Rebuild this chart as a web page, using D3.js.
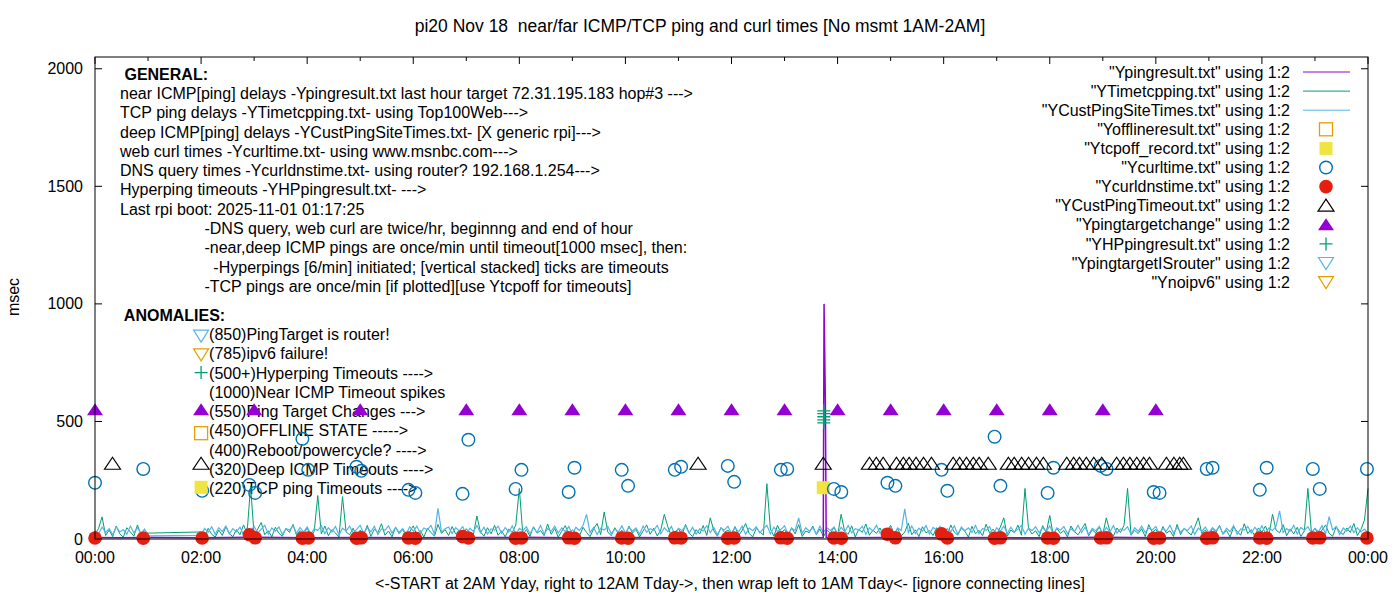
<!DOCTYPE html>
<html>
<head>
<meta charset="utf-8">
<script src="https://d3js.org/d3.v7.min.js"></script>
<style>
  body { margin: 0; background: #fff; }
  text { font-family: "Liberation Sans", Arial, sans-serif; }
</style>
</head>
<body>
<div id="chart"></div>
<script>
'use strict'

////////////////////////////////////
/////////////// data ///////////////
////////////////////////////////////

// time axis, hours 0..24
const xTickHours = [0, 2, 4, 6, 8, 10, 12, 14, 16, 18, 20, 22, 24]
const yTickVals = [0, 500, 1000, 1500, 2000]

// near ICMP ping (Ypingresult.txt)
const pingTimes = [0, 0.5, 1.0, 2.0, 3, 4, 5, 6, 7, 8, 9, 10, 11, 12, 13, 13.73, 13.745, 13.77, 13.785, 14, 15, 16, 17, 18, 19, 20, 21, 22, 23, 24]
const pingVals = [6, 5, 6, 5, 7, 5, 6, 5, 6, 7, 5, 6, 5, 6, 5, 6, 1000, 575, 6, 5, 6, 5, 6, 5, 7, 5, 6, 5, 6, 5]

// TCP ping (YTimetcpping.txt), 4 minute samples: 00:00-01:00 then 02:00-24:00
const sampleStepMin = 4
const tcpA = [20, 45, 94, 15, 38, 10, 55, 22, 8, 48, 30, 12, 60, 18, 35, 25]
const tcpB = [
    30, 12, 45, 20, 8, 38, 15, 52, 22, 10, 40, 18, 60, 25, 225,
    14, 42, 70, 18, 35, 9, 50, 24, 12, 44, 28, 62, 15, 36, 20,
    48, 10, 33, 185, 22, 55, 14, 40, 26, 8, 180, 30, 18, 46, 12,
    38, 20, 58, 11, 42, 27, 65, 16, 34, 9, 50, 23, 40, 14, 31,
    56, 19, 36, 8, 45, 28, 12, 62, 24, 40, 15, 53, 21, 37, 10,
    44, 26, 18, 98, 30, 12, 48, 22, 58, 16, 35, 9, 42, 27, 60,
    215, 18, 40, 11, 52, 25, 36, 14, 64, 20, 45, 8, 33, 57, 17,
    39, 24, 12, 50, 28, 10, 43, 66, 19, 115, 30, 14, 48, 22, 37,
    16, 55, 25, 41, 9, 34, 60, 20, 46, 13, 38, 105, 52, 11, 30,
    44, 18, 62, 26, 10, 40, 21, 57, 15, 90, 35, 12, 49, 28, 38,
    20, 53, 14, 36, 66, 23, 9, 45, 30, 17, 235, 42, 12, 58, 26,
    40, 15, 48, 22, 61, 11, 34, 27, 55, 18, 43, 10, 37, 25, 50,
    14, 105, 32, 20, 56, 9, 41, 28, 64, 16, 38, 24, 47, 12, 35,
    58, 21, 44, 13, 30, 67, 18, 39, 10, 52, 26, 36, 15, 48, 23,
    40, 11, 60, 29, 17, 46, 33, 8, 54, 22, 37, 14, 63, 25, 42,
    19, 50, 90, 12, 38, 27, 59, 16, 215, 44, 21, 35, 10, 57, 28,
    100, 15, 46, 24, 36, 9, 55, 31, 18, 42, 66, 13, 39, 26, 51,
    20, 90, 33, 12, 47, 28, 58, 215, 16, 37, 23, 44, 10, 61, 29,
    41, 14, 53, 25, 35, 11, 62, 19, 45, 30, 17, 50, 90, 24, 38,
    13, 44, 27, 58, 20, 36, 9, 51, 32, 16, 65, 23, 40, 12, 47,
    29, 55, 18, 105, 38, 26, 61, 14, 43, 22, 50, 11, 34, 215, 27,
    45, 17, 38, 60, 24, 12, 52, 31, 19, 47, 28, 66, 15, 40, 80,
    215
]

// deep ICMP ping (YCustPingSiteTimes.txt), same sampling
const custA = [35, 22, 50, 28, 45, 18, 52, 30, 40, 20, 55, 26, 48, 24, 42, 13]
const custB = [
    15, 45, 28, 52, 20, 48, 32, 55, 22, 44, 30, 50, 18, 46, 35,
    54, 25, 42, 58, 21, 47, 33, 52, 19, 45, 38, 56, 24, 49, 29,
    51, 20, 44, 36, 57, 23, 48, 30, 53, 18, 46, 34, 55, 26, 41,
    58, 22, 49, 31, 54, 19, 43, 37, 56, 25, 50, 28, 45, 21, 52,
    33, 55, 24, 47, 39, 58, 20, 130, 29, 44, 51, 23, 48, 35, 53,
    18, 46, 32, 57, 26, 50, 21, 43, 38, 54, 24, 49, 30, 56, 19,
    45, 35, 52, 22, 48, 28, 58, 20, 44, 33, 55, 25, 47, 31, 53,
    21, 50, 36, 57, 105, 27, 49, 19, 46, 38, 54, 23, 42, 30, 56,
    24, 51, 33, 47, 20, 55, 29, 44, 37, 58, 22, 48, 31, 53, 19,
    45, 36, 56, 25, 50, 21, 43, 34, 57, 27, 49, 18, 46, 39, 54,
    23, 48, 30, 55, 20, 47, 35, 52, 26, 44, 58, 22, 50, 32, 41,
    56, 19, 45, 37, 90, 24, 48, 33, 49, 21, 55, 28, 47, 36, 51,
    22, 50, 31, 57, 26, 44, 38, 54, 20, 48, 34, 58, 25, 43, 30,
    52, 19, 47, 36, 128, 27, 55, 23, 46, 33, 57, 21, 49, 38, 53,
    25, 44, 31, 56, 20, 51, 35, 47, 28, 58, 22, 45, 37, 53, 19,
    48, 33, 55, 24, 50, 29, 42, 57, 21, 46, 36, 52, 26, 49, 32,
    56, 20, 47, 38, 53, 23, 44, 31, 58, 27, 50, 19, 45, 35, 54,
    22, 49, 30, 57, 25, 43, 37, 52, 20, 48, 33, 55, 28, 46, 39,
    53, 21, 45, 34, 58, 24, 50, 29, 44, 36, 56, 19, 47, 32, 51,
    26, 48, 35, 55, 22, 46, 31, 57, 20, 43, 38, 53, 25, 50, 30,
    56, 23, 47, 36, 54, 120, 28, 44, 33, 58, 21, 49, 37, 52, 26,
    45, 31, 57, 22, 95, 39, 53, 19, 47, 34, 55, 27, 48, 30, 42,
    25
]

// web curl times (Ycurltime.txt) and DNS times (Ycurldnstime.txt), same timestamps
const curlTimes = [0.0, 0.91, 2.02, 2.91, 3.02, 3.91, 4.02, 4.93, 5.02, 5.91, 6.04, 6.93, 7.04, 7.93, 8.04, 8.93, 9.04, 9.93, 10.05, 10.93, 11.05, 11.93, 12.05, 12.93, 13.05, 13.93, 14.07, 14.94, 15.09, 15.96, 16.07, 16.96, 17.07, 17.96, 18.07, 18.96, 19.07, 19.96, 20.07, 20.96, 21.07, 21.96, 22.09, 22.96, 23.09, 23.98]
const curlVals = [239, 298, 205, 230, 196, 426, 294, 307, 290, 209, 196, 192, 422, 213, 294, 200, 303, 294, 226, 294, 307, 311, 243, 294, 298, 213, 200, 239, 226, 294, 205, 435, 226, 196, 303, 311, 298, 200, 196, 298, 303, 209, 303, 298, 213, 298]
const dnsVals = [4, 3, 4, 18, 5, 3, 4, 3, 5, 4, 3, 10, 4, 3, 4, 5, 3, 4, 3, 5, 4, 3, 4, 5, 3, 4, 3, 20, 5, 22, 4, 3, 5, 4, 3, 4, 5, 3, 4, 3, 5, 4, 3, 4, 5, 4]

// deep ICMP timeouts (YCustPingTimeout.txt)
const custTimeoutTimes = [0.33, 11.37, 13.73,
    14.60, 14.73, 14.86, 15.11, 15.24, 15.35, 15.48, 15.62, 15.77,
    16.18, 16.30, 16.43, 16.56, 16.67, 16.84, 17.22, 17.33, 17.47, 17.60, 17.75, 17.88,
    18.32, 18.45, 18.56, 18.69, 18.83, 18.98, 19.26, 19.39, 19.51, 19.64, 19.77, 19.88,
    20.20, 20.34, 20.45, 20.52]
const custTimeoutVal = 320

// ping target changes (Ypingtargetchange)
const targetChangeTimes = [0, 3, 5, 7, 8, 9, 10, 11, 12, 13, 14, 15, 16, 17, 18, 19, 20]
const targetChangeVal = 550

// TCP ping timeouts (Ytcpoff_record.txt)
const tcpOffTimes = [13.73]
const tcpOffVals = [218]

// hyperping timeouts (YHPpingresult.txt)
const hpTimes = [13.74, 13.74, 13.74, 13.74, 13.74]
const hpVals = [494, 507, 520, 533, 545]

const titleText = 'pi20 Nov 18  near/far ICMP/TCP ping and curl times [No msmt 1AM-2AM]'
const xLabelText = '<-START at 2AM Yday, right to 12AM Tday->, then wrap left to 1AM Tday<- [ignore connecting lines]'
const yLabelText = 'msec'

const generalLines = [
    ' GENERAL:',
    'near ICMP[ping] delays -Ypingresult.txt last hour target 72.31.195.183 hop#3 --->',
    'TCP ping delays -YTimetcpping.txt- using Top100Web--->',
    'deep ICMP[ping] delays -YCustPingSiteTimes.txt- [X generic rpi]--->',
    'web curl times -Ycurltime.txt- using www.msnbc.com--->',
    'DNS query times -Ycurldnstime.txt- using router? 192.168.1.254--->',
    'Hyperping timeouts -YHPpingresult.txt- --->',
    'Last rpi boot: 2025-11-01 01:17:25',
    '                   -DNS query, web curl are twice/hr, beginnng and end of hour',
    '                   -near,deep ICMP pings are once/min until timeout[1000 msec], then:',
    '                     -Hyperpings [6/min] initiated; [vertical stacked] ticks are timeouts',
    '                   -TCP pings are once/min [if plotted][use Ytcpoff for timeouts]'
]

const anomalyTitle = ' ANOMALIES:'
const anomalyLines = [
    { text: '(850)PingTarget is router!', key: 'isrouter', keyVal: 865 },
    { text: '(785)ipv6 failure!', key: 'noipv6', keyVal: 785 },
    { text: '(500+)Hyperping Timeouts ---->', key: 'hp', keyVal: 708 },
    { text: '(1000)Near ICMP Timeout spikes', key: null },
    { text: '(550)Ping Target Changes --->', key: 'tchange', keyVal: 550 },
    { text: '(450)OFFLINE STATE ----->', key: 'offline', keyVal: 450 },
    { text: '(400)Reboot/powercycle? ---->', key: null },
    { text: '(320)Deep ICMP Timeouts ---->', key: 'custto', keyVal: 320 },
    { text: '(220)TCP ping Timeouts ---->', key: 'tcpoff', keyVal: 220 }
]
const anomalyKeyHour = 2

const legendItems = [
    { label: '"Ypingresult.txt" using 1:2', key: 'ping' },
    { label: '"YTimetcpping.txt" using 1:2', key: 'tcp' },
    { label: '"YCustPingSiteTimes.txt" using 1:2', key: 'cust' },
    { label: '"Yofflineresult.txt" using 1:2', key: 'offline' },
    { label: '"Ytcpoff_record.txt" using 1:2', key: 'tcpoff' },
    { label: '"Ycurltime.txt" using 1:2', key: 'curl' },
    { label: '"Ycurldnstime.txt" using 1:2', key: 'dns' },
    { label: '"YCustPingTimeout.txt" using 1:2', key: 'custto' },
    { label: '"Ypingtargetchange" using 1:2', key: 'tchange' },
    { label: '"YHPpingresult.txt" using 1:2', key: 'hp' },
    { label: '"YpingtargetISrouter" using 1:2', key: 'isrouter' },
    { label: '"Ynoipv6" using 1:2', key: 'noipv6' }
]

////////////////////////////////////
//////////// svg setup /////////////
////////////////////////////////////

const svgWidth = 1400
const svgHeight = 600
const plot = { left: 95, right: 1368, top: 57, bottom: 539 }
const fontSize = 16

const color = {
    ping: '#9400d3', tcp: '#009e73', cust: '#56b4e9', offline: '#e69f00',
    tcpoff: '#f0e442', curl: '#0072b2', dns: '#e51e10', custto: '#000000',
    tchange: '#9400d3', hp: '#009e73', isrouter: '#56b4e9', noipv6: '#e69f00'
}

const svg = d3.select('#chart')
    .append('svg')
    .attr('width', svgWidth)
    .attr('height', svgHeight)
    .style('font-size', fontSize + 'px')

const x = d3.scaleLinear().domain([0, 24]).range([plot.left, plot.right])
const y = d3.scaleLinear().domain([0, 2050]).range([plot.bottom, plot.top])

// marker shapes, gnuplot-ish
const markers = {
    offline: g => g.append('rect').attr('x', -6.5).attr('y', -6.5).attr('width', 13).attr('height', 13)
        .attr('fill', 'none').attr('stroke', color.offline).attr('stroke-width', 1.3),
    tcpoff: g => g.append('rect').attr('x', -6.5).attr('y', -6.5).attr('width', 13).attr('height', 13)
        .attr('fill', color.tcpoff),
    curl: g => g.append('circle').attr('r', 6.3)
        .attr('fill', 'none').attr('stroke', color.curl).attr('stroke-width', 1.4),
    dns: g => g.append('circle').attr('r', 6.8).attr('fill', color.dns),
    custto: g => g.append('path').attr('d', 'M0,-6.5L8,5.5L-8,5.5Z')
        .attr('fill', 'none').attr('stroke', color.custto).attr('stroke-width', 1.2),
    tchange: g => g.append('path').attr('d', 'M0,-6.5L8,5.5L-8,5.5Z').attr('fill', color.tchange),
    hp: g => g.append('path').attr('d', 'M-6.5,0H6.5M0,-6.5V6.5')
        .attr('stroke', color.hp).attr('stroke-width', 1.3),
    isrouter: g => g.append('path').attr('d', 'M0,6.5L7.5,-5.5L-7.5,-5.5Z')
        .attr('fill', 'none').attr('stroke', color.isrouter).attr('stroke-width', 1.2),
    noipv6: g => g.append('path').attr('d', 'M0,6.5L7.5,-5.5L-7.5,-5.5Z')
        .attr('fill', 'none').attr('stroke', color.noipv6).attr('stroke-width', 1.2)
}

const drawPoints = (key, pts) => {
    svg.append('g')
        .selectAll('g')
        .data(pts)
        .join('g')
        .attr('transform', d => `translate(${x(d[0])},${y(d[1])})`)
        .each(function () { markers[key](d3.select(this)) })
}

////////////////////////////////////
///////////// axes/text ////////////
////////////////////////////////////

svg.append('text')
    .attr('xml:space', 'preserve')
    .style('white-space', 'pre')
    .style('font-size', '17.5px')
    .attr('x', 700).attr('y', 26).attr('dy', '0.35em')
    .attr('text-anchor', 'middle')
    .text(titleText)

svg.append('text')
    .attr('x', 730).attr('y', 583).attr('dy', '0.35em')
    .attr('text-anchor', 'middle')
    .text(xLabelText)

svg.append('text')
    .attr('transform', 'translate(13,297) rotate(-90)')
    .attr('dy', '0.35em')
    .attr('text-anchor', 'middle')
    .text(yLabelText)

// text blocks sit behind the data
const lineH = 19.3
svg.append('g')
    .selectAll('text')
    .data(generalLines)
    .join('text')
    .attr('xml:space', 'preserve')
    .style('white-space', 'pre')
    .attr('x', 120)
    .attr('y', (d, i) => 74 + i * lineH)
    .attr('dy', '0.35em')
    .attr('font-weight', (d, i) => i === 0 ? 'bold' : null)
    .text(d => d)

svg.append('text')
    .attr('xml:space', 'preserve')
    .style('white-space', 'pre')
    .attr('x', 120).attr('y', 315).attr('dy', '0.35em')
    .attr('font-weight', 'bold')
    .text(anomalyTitle)

svg.append('g')
    .selectAll('text')
    .data(anomalyLines)
    .join('text')
    .attr('x', x(anomalyKeyHour) + 8)
    .attr('y', (d, i) => 315 + (i + 1) * lineH)
    .attr('dy', '0.35em')
    .text(d => d.text)

// axis ticks (inward, mirrored)
const frame = svg.append('g')
const minorHours = d3.range(1, 24, 2)
xTickHours.forEach(h => {
    frame.append('line').attr('x1', x(h)).attr('x2', x(h)).attr('y1', plot.bottom).attr('y2', plot.bottom - 7).attr('stroke', '#000')
    frame.append('line').attr('x1', x(h)).attr('x2', x(h)).attr('y1', plot.top).attr('y2', plot.top + 7).attr('stroke', '#000')
    frame.append('text').attr('x', x(h)).attr('y', 557).attr('dy', '0.35em').attr('text-anchor', 'middle')
        .text(String(h % 24).padStart(2, '0') + ':00')
})
minorHours.forEach(h => {
    frame.append('line').attr('x1', x(h)).attr('x2', x(h)).attr('y1', plot.bottom).attr('y2', plot.bottom - 4).attr('stroke', '#000')
    frame.append('line').attr('x1', x(h)).attr('x2', x(h)).attr('y1', plot.top).attr('y2', plot.top + 4).attr('stroke', '#000')
})
yTickVals.forEach(v => {
    frame.append('line').attr('x1', plot.left).attr('x2', plot.left + 7).attr('y1', y(v)).attr('y2', y(v)).attr('stroke', '#000')
    frame.append('line').attr('x1', plot.right).attr('x2', plot.right - 7).attr('y1', y(v)).attr('y2', y(v)).attr('stroke', '#000')
    frame.append('text').attr('x', 83).attr('y', y(v)).attr('dy', '0.35em').attr('text-anchor', 'end').text(v)
})

////////////////////////////////////
///////////// series ///////////////
////////////////////////////////////

const stepH = sampleStepMin / 60
const seg = (vals, start) => vals.map((v, i) => [start + i * stepH, v])
const tcpData = seg(tcpA, 0).concat(seg(tcpB, 2))
const custData = seg(custA, 0).concat(seg(custB, 2))
const pingData = pingTimes.map((t, i) => [t, pingVals[i]])

const line = d3.line().x(d => x(d[0])).y(d => y(d[1]))

svg.append('path').datum(tcpData).attr('d', line)
    .attr('fill', 'none').attr('stroke', color.tcp).attr('stroke-width', 1)
svg.append('path').datum(custData).attr('d', line)
    .attr('fill', 'none').attr('stroke', color.cust).attr('stroke-width', 1.2)
svg.append('path').datum(pingData).attr('d', line)
    .attr('fill', 'none').attr('stroke', color.ping).attr('stroke-width', 1.5)

drawPoints('tcpoff', tcpOffTimes.map((t, i) => [t, tcpOffVals[i]]))
drawPoints('curl', curlTimes.map((t, i) => [t, curlVals[i]]))
drawPoints('dns', curlTimes.map((t, i) => [t, dnsVals[i]]))
drawPoints('custto', custTimeoutTimes.map(t => [t, custTimeoutVal]))
drawPoints('tchange', targetChangeTimes.map(t => [t, targetChangeVal]))
drawPoints('hp', hpTimes.map((t, i) => [t, hpVals[i]]))

// anomaly key symbols next to the labels
anomalyLines.filter(d => d.key).forEach(d => drawPoints(d.key, [[anomalyKeyHour, d.keyVal]]))

// frame on top
svg.append('rect')
    .attr('x', plot.left).attr('y', plot.top)
    .attr('width', plot.right - plot.left).attr('height', plot.bottom - plot.top)
    .attr('fill', 'none').attr('stroke', '#000').attr('stroke-width', 1)

////////////////////////////////////
////////////// legend //////////////
////////////////////////////////////

const legend = svg.append('g')
const legTop = 72
const legRowH = 19.1
legendItems.forEach((d, i) => {
    const ly = legTop + i * legRowH
    legend.append('text').attr('x', 1290).attr('y', ly).attr('dy', '0.35em')
        .attr('text-anchor', 'end').text(d.label)
    if (markers[d.key]) {
        markers[d.key](legend.append('g').attr('transform', `translate(1326,${ly})`))
    } else {
        legend.append('line').attr('x1', 1303).attr('x2', 1350).attr('y1', ly).attr('y2', ly)
            .attr('stroke', color[d.key]).attr('stroke-width', 1)
    }
})
</script>
</body>
</html>
